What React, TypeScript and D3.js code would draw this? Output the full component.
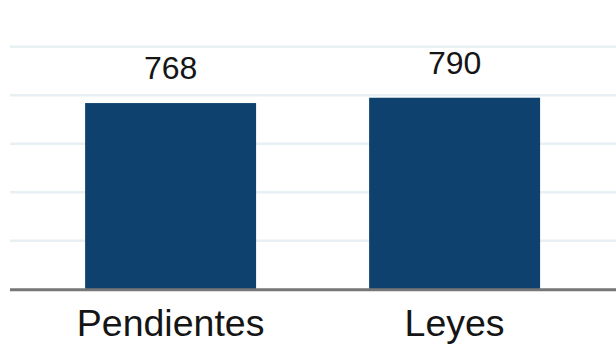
import React from "react";
import * as d3 from "d3";

const categories: string[] = ["Pendientes", "Leyes"];
const values: number[] = [768, 790];
const gridTicks: number[] = [200, 400, 600, 800, 1000];

const W = 616;
const H = 346;

export default function App() {
  const x = d3
    .scaleBand<string>()
    .domain(categories)
    .range([28.6, 596.6])
    .paddingInner(0.398)
    .paddingOuter(0.199);
  const y = d3.scaleLinear().domain([0, 1000]).range([289.3, 46.8]);
  const left = 10;
  const font = "'Liberation Sans', Arial, Helvetica, sans-serif";

  return (
    <svg
      width={W}
      height={H}
      style={{ position: "absolute", left: 0, top: 0, background: "#fff" }}
    >
      <g>
        {gridTicks.map((t) => (
          <line
            key={t}
            x1={left}
            x2={W}
            y1={y(t)}
            y2={y(t)}
            stroke="#e8f0f3"
            strokeWidth={2.5}
          />
        ))}
      </g>
      <g>
        {categories.map((c, i) => (
          <rect
            key={c}
            x={x(c)!}
            y={y(values[i])}
            width={x.bandwidth()}
            height={y(0) - y(values[i])}
            fill="#0f416e"
          />
        ))}
      </g>
      <line
        x1={left}
        x2={W}
        y1={y(0) + 0.5}
        y2={y(0) + 0.5}
        stroke="#777777"
        strokeWidth={3}
      />
      <g fontFamily={font} fill="#151515" textAnchor="middle">
        {categories.map((c, i) => (
          <text
            key={"v" + c}
            x={x(c)! + x.bandwidth() / 2}
            y={y(values[i]) - 24}
            fontSize={32}
          >
            {d3.format("d")(values[i])}
          </text>
        ))}
        {categories.map((c) => (
          <text
            key={"c" + c}
            x={x(c)! + x.bandwidth() / 2}
            y={336}
            fontSize={37.5}
          >
            {c}
          </text>
        ))}
      </g>
    </svg>
  );
}
